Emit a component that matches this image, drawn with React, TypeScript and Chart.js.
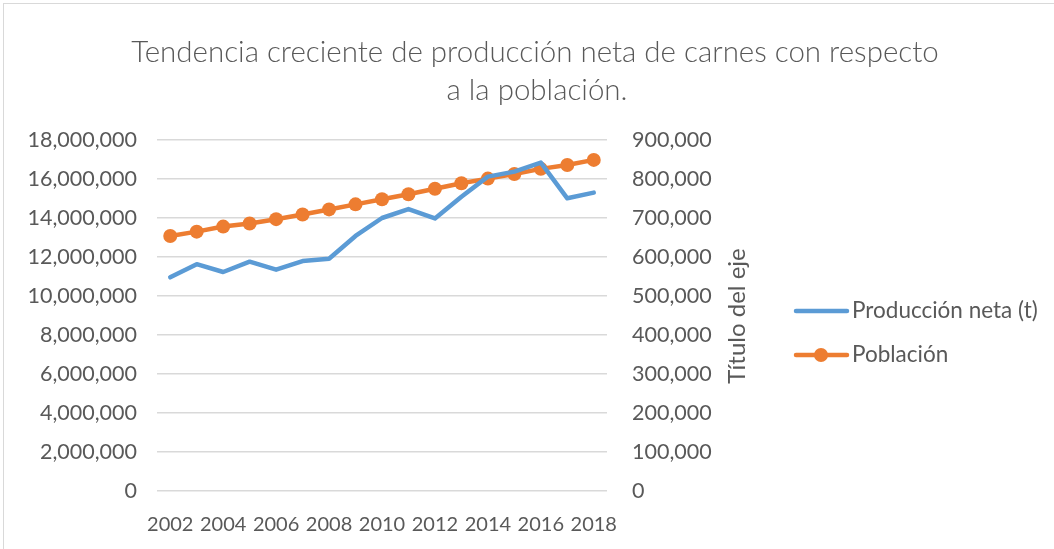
import React, { useEffect, useRef } from "react";
import { Chart, registerables } from "chart.js";

Chart.register(...registerables);

const years = ["2002","2003","2004","2005","2006","2007","2008","2009","2010","2011","2012","2013","2014","2015","2016","2017","2018"];
const produccion = [10960000,11630000,11230000,11760000,11350000,11790000,11910000,13080000,14000000,14460000,13980000,15090000,16120000,16380000,16840000,15010000,15300000];
const poblacion = [654000,665000,678000,686000,697000,709000,722000,735000,748000,761000,775000,789000,801000,813000,826000,836000,849000];
const titleLines = ["Tendencia creciente de producción neta de carnes con respecto", "a la población."];
const seriesNames = ["Producción neta (t)", "Población"];
const rightAxisTitle = "Título del eje";

const BLUE = "#5B9BD5";
const ORANGE = "#ED7D31";
const TEXT = "#595959";
const GRID = "#D9D9D9";
const FONT = "Lato";

const fmt = (v: number) => Math.round(v).toLocaleString("en-US");

export default function App() {
  const ref = useRef<HTMLCanvasElement>(null);
  useEffect(() => {
    document.body.style.margin = "0";
    const decor = {
      id: "decor",
      afterDraw(chart: any) {
        const ctx = chart.ctx;
        ctx.save();
        ctx.fillStyle = TEXT;
        ctx.textAlign = "center";
        ctx.textBaseline = "middle";
        ctx.font = `300 29.5px ${FONT}`;
        ctx.fillText(titleLines[0], 535, 52);
        ctx.fillText(titleLines[1], 537, 90);
        // right axis title
        ctx.save();
        ctx.translate(737, 316);
        ctx.rotate(-Math.PI / 2);
        ctx.font = `24px ${FONT}`;
        ctx.fillText(rightAxisTitle, 0, 0);
        ctx.restore();
        // legend
        ctx.textAlign = "left";
        ctx.font = `22.5px ${FONT}`;
        ctx.lineCap = "round";
        ctx.lineWidth = 4.5;
        ctx.strokeStyle = BLUE;
        ctx.beginPath();
        ctx.moveTo(796, 311);
        ctx.lineTo(847, 311);
        ctx.stroke();
        ctx.fillText(seriesNames[0], 852, 311);
        ctx.strokeStyle = ORANGE;
        ctx.beginPath();
        ctx.moveTo(796, 355);
        ctx.lineTo(847, 355);
        ctx.stroke();
        ctx.fillStyle = ORANGE;
        ctx.beginPath();
        ctx.arc(821, 355, 7, 0, Math.PI * 2);
        ctx.fill();
        ctx.fillStyle = TEXT;
        ctx.fillText(seriesNames[1], 852, 355);
        ctx.restore();
      },
    };
    const chart = new Chart(ref.current!, {
      type: "line",
      data: {
        labels: years,
        datasets: [
          {
            label: seriesNames[0],
            data: produccion,
            borderColor: BLUE,
            backgroundColor: BLUE,
            borderWidth: 4.5,
            pointRadius: 0,
            tension: 0,
            yAxisID: "y",
            borderCapStyle: "round",
            borderJoinStyle: "round",
          },
          {
            label: seriesNames[1],
            data: poblacion,
            borderColor: ORANGE,
            backgroundColor: ORANGE,
            borderWidth: 4.5,
            pointRadius: 7,
            pointBorderWidth: 0,
            tension: 0,
            yAxisID: "y1",
            borderCapStyle: "round",
            borderJoinStyle: "round",
          },
        ],
      },
      options: {
        responsive: false,
        animation: false,
        layout: { padding: { top: 140, left: 0, right: 0, bottom: 0 } },
        plugins: { legend: { display: false }, title: { display: false }, tooltip: { enabled: false } },
        scales: {
          x: {
            offset: true,
            grid: { display: false, drawTicks: false },
            border: { display: false },
            ticks: {
              autoSkip: false,
              maxRotation: 0,
              padding: 22,
              color: TEXT,
              font: { family: FONT, size: 20 },
              callback: (_v: any, i: number) => (i % 2 === 0 ? years[i] : ""),
            },
            afterFit: (s: any) => { s.height = 58; },
          },
          y: {
            position: "left",
            min: 0,
            max: 18000000,
            grid: { color: GRID, lineWidth: 1.5, drawTicks: false },
            border: { display: false },
            ticks: { stepSize: 2000000, padding: 20, color: TEXT, font: { family: FONT, size: 21.5 }, callback: (v: any) => fmt(v) },
            afterFit: (s: any) => { s.width = 157; },
          },
          y1: {
            position: "right",
            min: 0,
            max: 900000,
            grid: { display: false, drawTicks: false },
            border: { display: false },
            ticks: { stepSize: 100000, padding: 25, color: TEXT, font: { family: FONT, size: 21.5 }, callback: (v: any) => fmt(v) },
            afterFit: (s: any) => { s.width = 447; },
          },
        },
      },
      plugins: [decor],
    });
    return () => chart.destroy();
  }, []);
  return (
    <div style={{ position: "relative", width: 1054, height: 549, overflow: "hidden", background: "#fff" }}>
      <div style={{ position: "absolute", left: 3, top: 3, width: 1100, height: 600, border: `1px solid ${GRID}` }} />
      <canvas ref={ref} width={1054} height={549} style={{ position: "absolute", left: 0, top: 0 }} />
    </div>
  );
}
